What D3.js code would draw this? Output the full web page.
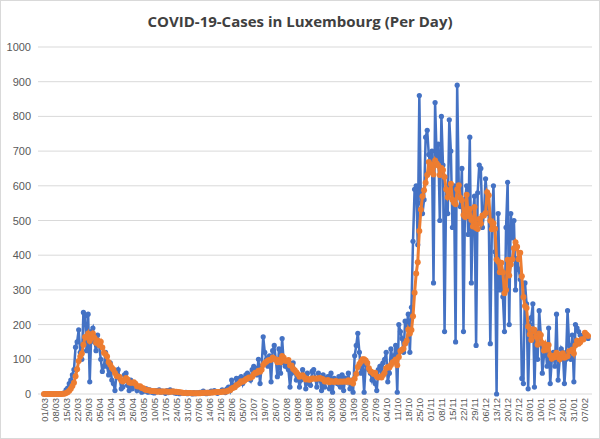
<!DOCTYPE html>
<html><head><meta charset="utf-8">
<script src="https://cdn.jsdelivr.net/npm/d3@7"></script>
<style>body{margin:0;background:#fff}</style>
</head><body>
<svg id="chart" width="600" height="439"></svg>
<script>
// daily cases, one row per week starting 01/03/2020
let weeks = [
  [0,0,0,0,0,0,0],
  [0,0,0,0,1,2,3],
  [12,17,30,40,55,70,135],
  [150,185,120,100,235,225,125],
  [230,35,180,190,150,125,170],
  [140,100,65,80,120,80,55],
  [90,40,30,10,60,70,45],
  [15,20,55,60,25,10,40],
  [15,30,25,10,20,15,5],
  [10,8,15,5,12,6,4],
  [3,10,7,12,5,8,6],
  [2,10,4,12,6,8,3],
  [2,5,1,4,3,2,5],
  [1,3,2,0,4,1,3],
  [2,5,3,8,2,1,5],
  [3,8,4,10,6,2,5],
  [6,12,10,4,15,20,10],
  [40,25,20,45,30,45,50],
  [30,45,55,60,50,40,70],
  [80,75,55,100,30,80,165],
  [120,100,80,110,35,125,140],
  [100,50,130,60,160,90,80],
  [95,70,20,60,90,65,40],
  [55,20,40,70,50,15,60],
  [30,25,65,70,45,20,60],
  [40,10,55,20,45,50,15],
  [60,5,45,40,30,50,20],
  [55,10,45,35,60,15,40],
  [5,110,140,175,120,60,90],
  [5,85,90,70,60,40,55],
  [30,10,70,80,50,90,100],
  [120,35,60,130,100,110,140],
  [5,200,180,160,120,210,200],
  [230,120,250,440,590,600,430],
  [860,550,520,560,740,760,690],
  [660,700,320,840,680,720,500],
  [800,660,180,590,520,790,700],
  [480,600,150,890,600,540,650],
  [180,560,600,460,740,320,520],
  [570,140,580,660,650,480,520],
  [620,560,520,145,480,600,410],
  [0,520,300,340,280,180,480],
  [610,200,520,450,500,300,390],
  [360,330,45,30,320,260,15],
  [200,220,260,20,180,100,240],
  [170,60,110,140,80,190,30],
  [100,120,80,230,40,100,130],
  [120,30,100,240,140,100,170],
  [35,200,190,180,170,160,165],
  [170,165,160]
];

let start = new Date(2020, 2, 1);
let data = [];
weeks.flat().forEach(function(v, i) {
  data.push({date: d3.timeDay.offset(start, i), cases: v});
});
// 7 day moving average (trailing)
data.forEach(function(d, i) {
  let s = data.slice(Math.max(0, i - 6), i + 1);
  d.avg = d3.mean(s, function(e) { return e.cases; });
});

let svg = d3.select('#chart');
svg.append('rect').attr('x', 0.5).attr('y', 0.5).attr('width', 599).attr('height', 438)
  .attr('fill', '#fff').attr('stroke', '#d9d9d9');

svg.append('text').attr('x', 300).attr('y', 27).attr('text-anchor', 'middle')
  .style('font-family', 'Open Sans, Liberation Sans, sans-serif').style('font-size', '15px')
  .style('font-weight', 'bold').style('fill', '#404040')
  .text('COVID-19-Cases in Luxembourg (Per Day)');

let x = d3.scaleTime()
  .domain([start, data[data.length - 1].date])
  .range([44, 44 + (data.length - 1) * 1.577]);
let y = d3.scaleLinear().domain([0, 1000]).range([394, 47]);

// gridlines + y labels
let yt = d3.range(0, 1001, 100);
svg.selectAll('.grid').data(yt).enter().append('line')
  .attr('x1', 38).attr('x2', 592)
  .attr('y1', function(d) { return y(d); }).attr('y2', function(d) { return y(d); })
  .attr('stroke', '#d9d9d9').attr('stroke-width', 1);
svg.selectAll('.ylab').data(yt).enter().append('text')
  .attr('x', 31).attr('y', function(d) { return y(d) + 4; })
  .attr('text-anchor', 'end')
  .style('font-family', 'Liberation Sans, sans-serif').style('font-size', '11px').style('fill', '#595959')
  .text(function(d) { return d; });

// x labels weekly
let xt = data.filter(function(d, i) { return i % 7 === 0; });
let fmt = d3.timeFormat('%d/%m');
svg.selectAll('.xlab').data(xt).enter().append('text')
  .attr('transform', function(d) { return 'translate(' + (x(d.date) + 3.5) + ',398) rotate(-90)'; })
  .attr('text-anchor', 'end')
  .style('font-family', 'Liberation Sans, sans-serif').style('font-size', '9.5px').style('fill', '#595959')
  .text(function(d) { return fmt(d.date); });

let lineCases = d3.line().x(function(d) { return x(d.date); }).y(function(d) { return y(d.cases); });
let lineAvg = d3.line().x(function(d) { return x(d.date); }).y(function(d) { return y(d.avg); });

svg.append('path').datum(data).attr('d', lineCases)
  .attr('fill', 'none').attr('stroke', '#4472C4').attr('stroke-width', 2.5);
svg.selectAll('.pc').data(data).enter().append('circle')
  .attr('cx', function(d) { return x(d.date); }).attr('cy', function(d) { return y(d.cases); })
  .attr('r', 2.6).attr('fill', '#4472C4');

svg.append('path').datum(data).attr('d', lineAvg)
  .attr('fill', 'none').attr('stroke', '#ED7D31').attr('stroke-width', 3);
svg.selectAll('.pa').data(data).enter().append('circle')
  .attr('cx', function(d) { return x(d.date); }).attr('cy', function(d) { return y(d.avg); })
  .attr('r', 3).attr('fill', '#ED7D31');
</script>
</body></html>
